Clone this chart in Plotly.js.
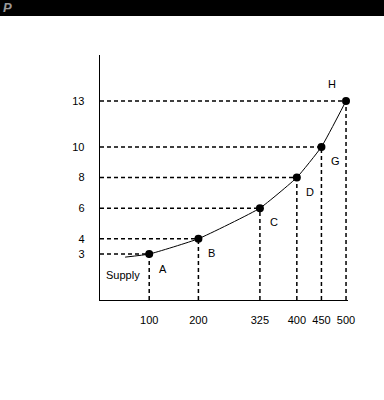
<!DOCTYPE html>
<html>
<head>
<meta charset="utf-8">
<script src="https://cdn.plot.ly/plotly-3.0.1.min.js"></script>
<style>
  html, body { margin: 0; padding: 0; background: #fff; }
  #wrap { position: relative; width: 384px; height: 400px; }
  #bar { position: absolute; left: 0; top: 0; width: 384px; height: 16px; background: #000; z-index: 5; }
  #bar span { position: absolute; left: 3px; top: 0px; color: #9a9a9a; font: bold 13px "Liberation Sans", Arial, sans-serif; font-style: italic; }
  #chart { position: absolute; left: 0; top: 0; width: 384px; height: 400px; }
</style>
</head>
<body>
<div id="wrap">
  <div id="bar"><span>P</span></div>
  <div id="chart"></div>
</div>
<script>
// Data
const pointLabels = ["A", "B", "C", "D", "G", "H"];
const quantity = [100, 200, 325, 400, 450, 500];
const price = [3, 4, 6, 8, 10, 13];
const supplyStartQ = 51;
const supplyStartP = 2.8;
const xTickVals = [100, 200, 325, 400, 450, 500];
const yTickVals = [3, 4, 6, 8, 10, 13];
const labelQ = [128, 227, 353, 427, 478, 471];
const labelP = [2.02, 3.04, 5.11, 7.04, 9.1, 14.1];
const supplyLabel = "Supply";
const supplyLabelQ = 47;
const supplyLabelP = 1.63;

const font = { family: "Liberation Sans, Arial, sans-serif", size: 11, color: "#000" };

const curve = {
  x: [supplyStartQ].concat(quantity),
  y: [supplyStartP].concat(price),
  mode: "lines",
  line: { color: "#000", width: 1, shape: "spline", smoothing: 0.4 },
  hoverinfo: "skip",
  cliponaxis: false,
  showlegend: false
};
const pts = {
  x: quantity,
  y: price,
  mode: "markers",
  marker: { color: "#000", size: 8 },
  cliponaxis: false,
  showlegend: false
};

const shapes = [];
quantity.forEach((q, i) => {
  const ln = { color: "#000", width: 1.5, dash: "4px,3px" };
  shapes.push({ type: "line", xref: "x", yref: "y", x0: 0, x1: q, y0: price[i], y1: price[i], line: ln, layer: "below" });
  shapes.push({ type: "line", xref: "x", yref: "y", x0: q, x1: q, y0: 0, y1: price[i], line: ln, layer: "below" });
});

const annotations = pointLabels.map((t, i) => ({
  x: labelQ[i], y: labelP[i], text: t, showarrow: false, font: font, xanchor: "center", yanchor: "middle"
}));
annotations.push({ x: supplyLabelQ, y: supplyLabelP, text: supplyLabel, showarrow: false, font: font, xanchor: "center", yanchor: "middle" });

const layout = {
  width: 384, height: 400,
  margin: { l: 100, r: 36, t: 55, b: 100 },
  paper_bgcolor: "#fff", plot_bgcolor: "#fff",
  font: font,
  xaxis: {
    range: [0, 504], tickvals: xTickVals, ticktext: xTickVals.map(String),
    showgrid: false, zeroline: false, showline: true, linecolor: "#000", linewidth: 1.3,
    ticks: "outside", ticklen: 9, tickcolor: "rgba(0,0,0,0)", tickfont: font, fixedrange: true
  },
  yaxis: {
    range: [0, 16], tickvals: yTickVals, ticktext: yTickVals.map(String),
    showgrid: false, zeroline: false, showline: true, linecolor: "#000", linewidth: 1.3,
    ticks: "outside", ticklen: 12, tickcolor: "rgba(0,0,0,0)", tickfont: font, fixedrange: true
  },
  shapes: shapes,
  annotations: annotations,
  showlegend: false
};

Plotly.newPlot("chart", [curve, pts], layout, { displayModeBar: false, staticPlot: true });
</script>
</body>
</html>
